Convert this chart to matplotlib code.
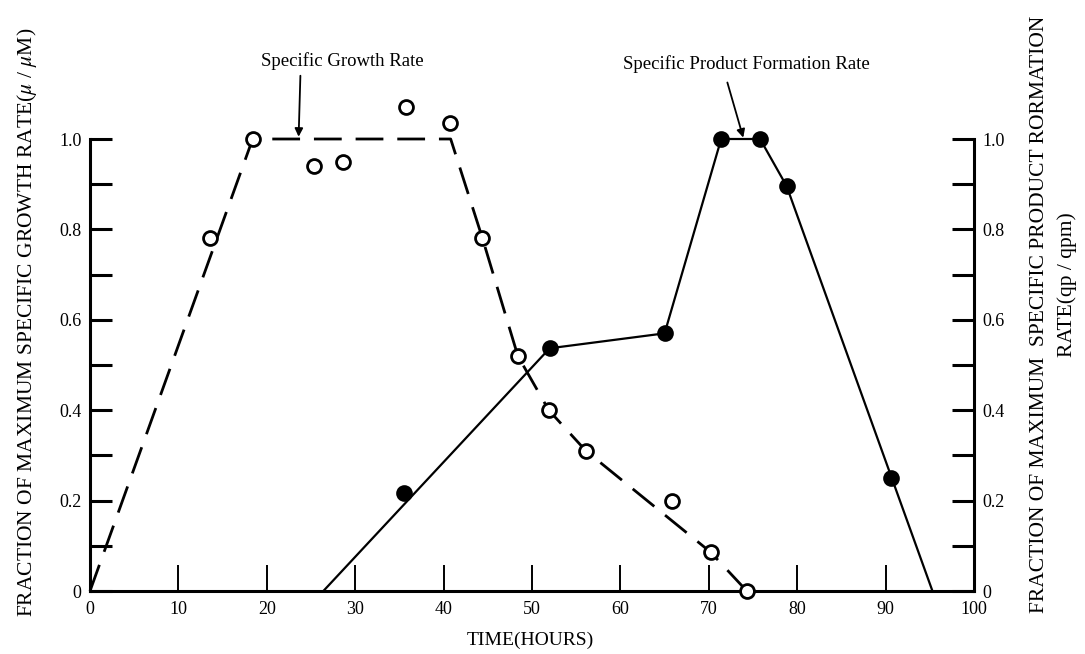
import matplotlib
matplotlib.use("Agg")
import matplotlib.pyplot as plt

plt.rcParams['font.family'] = ['Liberation Serif', 'DejaVu Serif']
plt.rcParams['mathtext.fontset'] = 'stix'

# ---- data ----
growth_x = [13.6, 18.4, 25.3, 28.6, 35.7, 40.7, 44.4, 48.4, 51.9, 56.1, 65.8, 70.2, 74.3]
growth_y = [0.78, 1.0, 0.94, 0.95, 1.07, 1.035, 0.78, 0.52, 0.40, 0.31, 0.20, 0.086, 0.0]
growth_line_x = [0.0, 18.4, 40.8, 44.4, 48.4, 51.9, 56.1, 70.2, 74.3]
growth_line_y = [0.0, 1.0, 1.0, 0.78, 0.52, 0.40, 0.31, 0.086, 0.0]

product_x = [35.5, 52.0, 65.0, 71.4, 75.8, 78.8, 90.6]
product_y = [0.216, 0.537, 0.57, 1.0, 1.0, 0.896, 0.25]
product_line_x = [26.4, 52.0, 65.0, 71.4, 75.8, 78.8, 95.3]
product_line_y = [0.0, 0.537, 0.57, 1.0, 1.0, 0.896, 0.0]

x_ticks = [0, 10, 20, 30, 40, 50, 60, 70, 80, 90, 100]
x_labels = ['0', '10', '20', '30', '40', '50', '60', '70', '80', '90', '100']
y_major = [0, 0.2, 0.4, 0.6, 0.8, 1.0]
y_labels = ['0', '0.2', '0.4', '0.6', '0.8', '1.0']
y_minor = [0.1, 0.3, 0.5, 0.7, 0.9]

W, H = 1085, 654
fig = plt.figure(figsize=(W / 100, H / 100), dpi=100)
L, R, B, T = 90, 974, 591, 139
ax = fig.add_axes([L / W, 1 - B / H, (R - L) / W, (B - T) / H])

ax.set_xlim(0, 100)
ax.set_ylim(0, 1.0)

# lines
ax.plot(growth_line_x, growth_line_y, color='black', lw=2.0,
        dashes=(10, 5), clip_on=False, zorder=2)
ax.plot(product_line_x, product_line_y, color='black', lw=1.6,
        clip_on=False, zorder=2)

# markers
ax.plot(growth_x, growth_y, 'o', ms=10, mfc='white', mec='black', mew=2.0,
        clip_on=False, zorder=3)
ax.plot(product_x, product_y, 'o', ms=10.5, mfc='black', mec='black', mew=1.5,
        clip_on=False, zorder=3)

# spines
ax.spines['top'].set_visible(False)
for s in ['left', 'right', 'bottom']:
    ax.spines[s].set_linewidth(2.2)

ax.set_xticks(x_ticks)
ax.set_xticklabels(x_labels)
ax.set_yticks(y_major)
ax.set_yticklabels(y_labels)
ax.set_yticks(y_minor, minor=True)
ax.tick_params(axis='x', direction='in', length=19, width=1.4, pad=7,
               labelsize=13)
ax.tick_params(axis='y', which='both', direction='in', length=16, width=2.2,
               left=True, right=True, labelleft=True, labelright=True,
               pad=6, labelsize=13)

# annotations
arrow_kw = dict(arrowstyle='-|>', color='black', lw=1.3,
                mutation_scale=12, shrinkA=0, shrinkB=0)
ax.text(28.5, 1.173, 'Specific Growth Rate', ha='center', va='center',
        fontsize=13.5)
ax.annotate('', xy=(23.6, 1.005), xytext=(23.8, 1.14),
            annotation_clip=False, arrowprops=arrow_kw)
ax.text(74.3, 1.165, 'Specific Product Formation Rate', ha='center',
        va='center', fontsize=13.5)
ax.annotate('', xy=(73.9, 1.003), xytext=(72.1, 1.125),
            annotation_clip=False, arrowprops=arrow_kw)

# axis labels
fig.text(530 / W, 1 - 640 / H, 'TIME(HOURS)', ha='center', va='center',
         fontsize=14)
fig.text(27 / W, 1 - 322 / H,
         r'FRACTION OF MAXIMUM SPECIFIC GROWTH RATE($\mu$ / $\mu$M)',
         rotation=90, ha='center', va='center', fontsize=15.5)
fig.text(1040 / W, 1 - 314 / H,
         'FRACTION OF MAXIMUM  SPECIFIC PRODUCT RORMATION',
         rotation=90, ha='center', va='center', fontsize=15.5)
fig.text(1067 / W, 1 - 285 / H, 'RATE(qp / qpm)',
         rotation=90, ha='center', va='center', fontsize=15.5)

fig.savefig('out.png', dpi=100)
